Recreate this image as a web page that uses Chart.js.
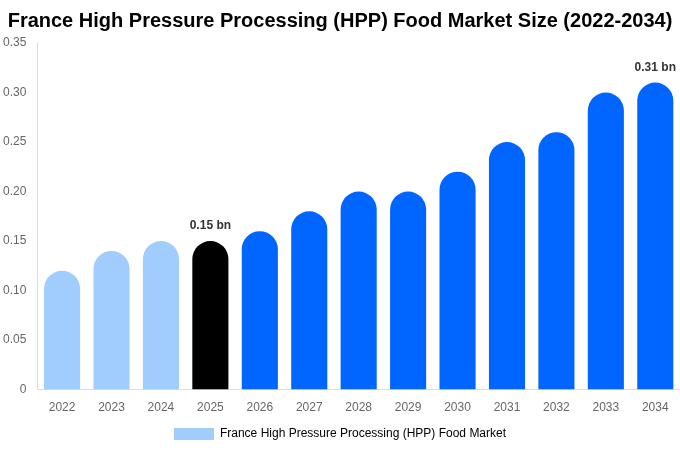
<!DOCTYPE html>
<html>
<head>
<meta charset="utf-8">
<script src="https://cdn.jsdelivr.net/npm/chart.js@4"></script>
<style>
    html, body { margin: 0; padding: 0; background: #fff; }
    #wrap { width: 680px; height: 450px; position: relative; }
</style>
</head>
<body>
<div id="wrap"><canvas id="chart"></canvas></div>
<script>
const years = ['2022', '2023', '2024', '2025', '2026', '2027', '2028', '2029', '2030', '2031', '2032', '2033', '2034'];
const marketSize = [0.12, 0.14, 0.15, 0.15, 0.16, 0.18, 0.20, 0.20, 0.22, 0.25, 0.26, 0.30, 0.31];
const labelledYears = ['2025', '2034'];

const pastColor = '#a0cdfe';
const baseColor = '#000000';
const forecastColor = '#0066ff';

const barColors = years.map(y => y < '2025' ? pastColor : (y === '2025' ? baseColor : forecastColor));

// valeurs au-dessus de certaines barres
const valueLabels = {
    id: 'valueLabels',
    afterDatasetsDraw(chart) {
        const { ctx } = chart;
        const meta = chart.getDatasetMeta(0);
        ctx.save();
        ctx.font = 'bold 12px "Liberation Sans", Arial, sans-serif';
        ctx.fillStyle = '#333';
        ctx.textAlign = 'center';
        ctx.textBaseline = 'bottom';
        years.forEach((y, i) => {
            if (!labelledYears.includes(y)) return;
            const bar = meta.data[i];
            ctx.fillText(marketSize[i].toFixed(2) + ' bn', bar.x, bar.y - 9);
        });
        ctx.restore();
    }
};

Chart.defaults.font.family = '"Liberation Sans", Arial, sans-serif';

new Chart(document.getElementById('chart'), {
    type: 'bar',
    data: {
        labels: years,
        datasets: [{
            label: 'France High Pressure Processing (HPP) Food Market',
            data: marketSize,
            backgroundColor: barColors,
            borderRadius: { topLeft: 18, topRight: 18 },
            borderSkipped: 'bottom',
            barPercentage: 0.73,
            categoryPercentage: 1
        }]
    },
    options: {
        responsive: true,
        maintainAspectRatio: false,
        animation: false,
        layout: { padding: { left: 0, right: 0, top: 0, bottom: 0 } },
        plugins: {
            title: {
                display: true,
                text: 'France High Pressure Processing (HPP) Food Market Size (2022-2034)',
                color: '#000',
                font: { size: 20, weight: 'bold' },
                padding: { top: 9, bottom: 10 }
            },
            legend: {
                position: 'bottom',
                labels: {
                    color: '#666',
                    font: { size: 12 },
                    boxWidth: 40,
                    boxHeight: 12,
                    generateLabels: () => [{
                        text: 'France High Pressure Processing (HPP) Food Market',
                        fillStyle: pastColor,
                        strokeStyle: pastColor,
                        lineWidth: 0,
                        datasetIndex: 0
                    }]
                }
            },
            tooltip: { enabled: false }
        },
        scales: {
            y: {
                min: 0,
                max: 0.35,
                ticks: {
                    stepSize: 0.05,
                    color: '#666',
                    font: { size: 12 },
                    callback: v => v === 0 ? '0' : v.toFixed(2)
                },
                grid: { display: false },
                border: { display: true, color: '#ddd' }
            },
            x: {
                ticks: { color: '#666', font: { size: 12 } },
                grid: { display: false },
                border: { display: true, color: '#ddd' }
            }
        }
    },
    plugins: [valueLabels]
});
</script>
</body>
</html>
